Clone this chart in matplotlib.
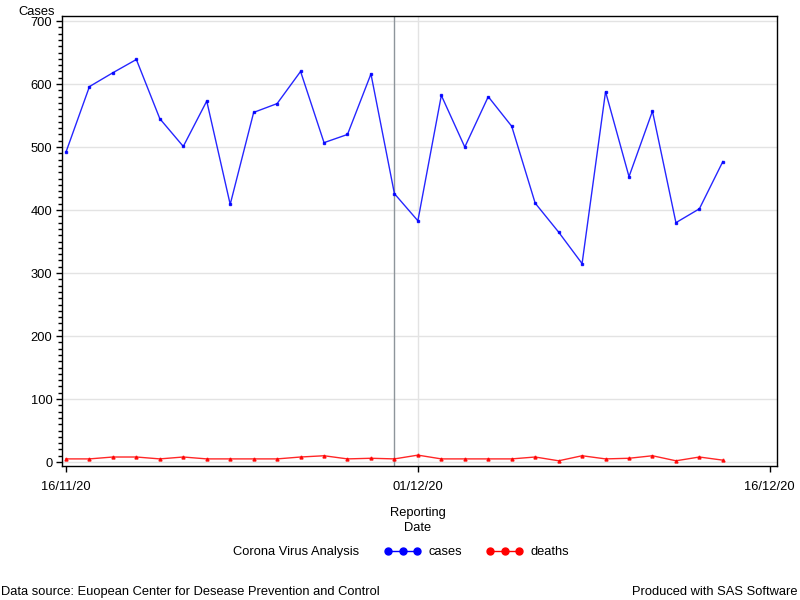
import matplotlib.pyplot as plt
import numpy as np
from matplotlib.lines import Line2D
from matplotlib.ticker import MultipleLocator, FixedLocator

plt.rcParams['font.family'] = ['Liberation Sans', 'DejaVu Sans']

# dni od 16/11/20 do 14/12/20
days = np.arange(29)
cases = [492, 596, 618, 639, 545, 501, 573, 409, 555, 569, 620, 507, 520, 616, 426,
         383, 582, 500, 580, 533, 411, 365, 315, 588, 453, 557, 380, 402, 477]
deaths = [5, 5, 8, 8, 5, 8, 5, 5, 5, 5, 8, 10, 5, 6, 5,
          11, 5, 5, 5, 5, 8, 2, 10, 5, 6, 10, 2, 8, 3]
tick_days = [0, 15, 30]
tick_labels = ['16/11/20', '01/12/20', '16/12/20']
ref_day = 14  # 30/11/20

fs = 9.3
fig = plt.figure(figsize=(8, 6), dpi=100)
ax = fig.add_axes([0.0775, 0.2233, 0.8935, 0.75])

for y in range(0, 800, 100):
    ax.axhline(y, color='#e3e3e3', lw=1, zorder=0)
ax.axvline(15, color='#e3e3e3', lw=1, zorder=0)
ax.axvline(ref_day, color='#8e959b', lw=1, zorder=1)

ax.plot(days, cases, color='#0000ff', lw=1, marker='s', ms=1.8, alpha=0.85, mec='#0000ff', mfc='#0000ff')
ax.plot(days, deaths, color='#ff0000', lw=1, marker='^', ms=2.2, alpha=0.85, mec='#ff0000', mfc='#ff0000')

ax.set_xlim(-0.17, 30.3)
ax.set_ylim(-6.3, 708)
ax.xaxis.set_major_locator(FixedLocator(tick_days))
ax.set_xticklabels(tick_labels)
ax.yaxis.set_major_locator(MultipleLocator(100))
ax.yaxis.set_minor_locator(MultipleLocator(10))
ax.tick_params(axis='both', which='major', length=4, width=1, labelsize=fs, colors='black')
ax.tick_params(axis='x', which='major', pad=7)
ax.tick_params(axis='y', which='major', pad=3)
ax.tick_params(axis='y', which='minor', length=3, width=1)
for s in ax.spines.values():
    s.set_linewidth(1)

fig.text(0.023, 0.98, 'Cases', fontsize=fs, va='center', ha='left')
fig.text(0.5225, 0.133, 'Reporting\nDate', fontsize=fs, ha='center', va='center', linespacing=1.3)

fig.text(0.291, 0.08, 'Corona Virus Analysis', fontsize=fs, va='center', ha='left')
handles = [Line2D([0], [0], color='#0000ff', marker='o', ms=5, lw=1),
           Line2D([0], [0], color='#ff0000', marker='o', ms=5, lw=1)]
fig.legend(handles, ['cases', 'deaths'], loc='center left', bbox_to_anchor=(0.466, 0.08),
           ncol=2, frameon=False, numpoints=3, handlelength=2.8, fontsize=fs,
           columnspacing=1.9, handletextpad=0.6)

fig.text(0.001, 0.013, 'Data source: Euopean Center for Desease Prevention and Control',
         fontsize=fs, va='center', ha='left')
fig.text(0.997, 0.013, 'Produced with SAS Software', fontsize=fs, va='center', ha='right')

fig.savefig('out.png', dpi=100)
